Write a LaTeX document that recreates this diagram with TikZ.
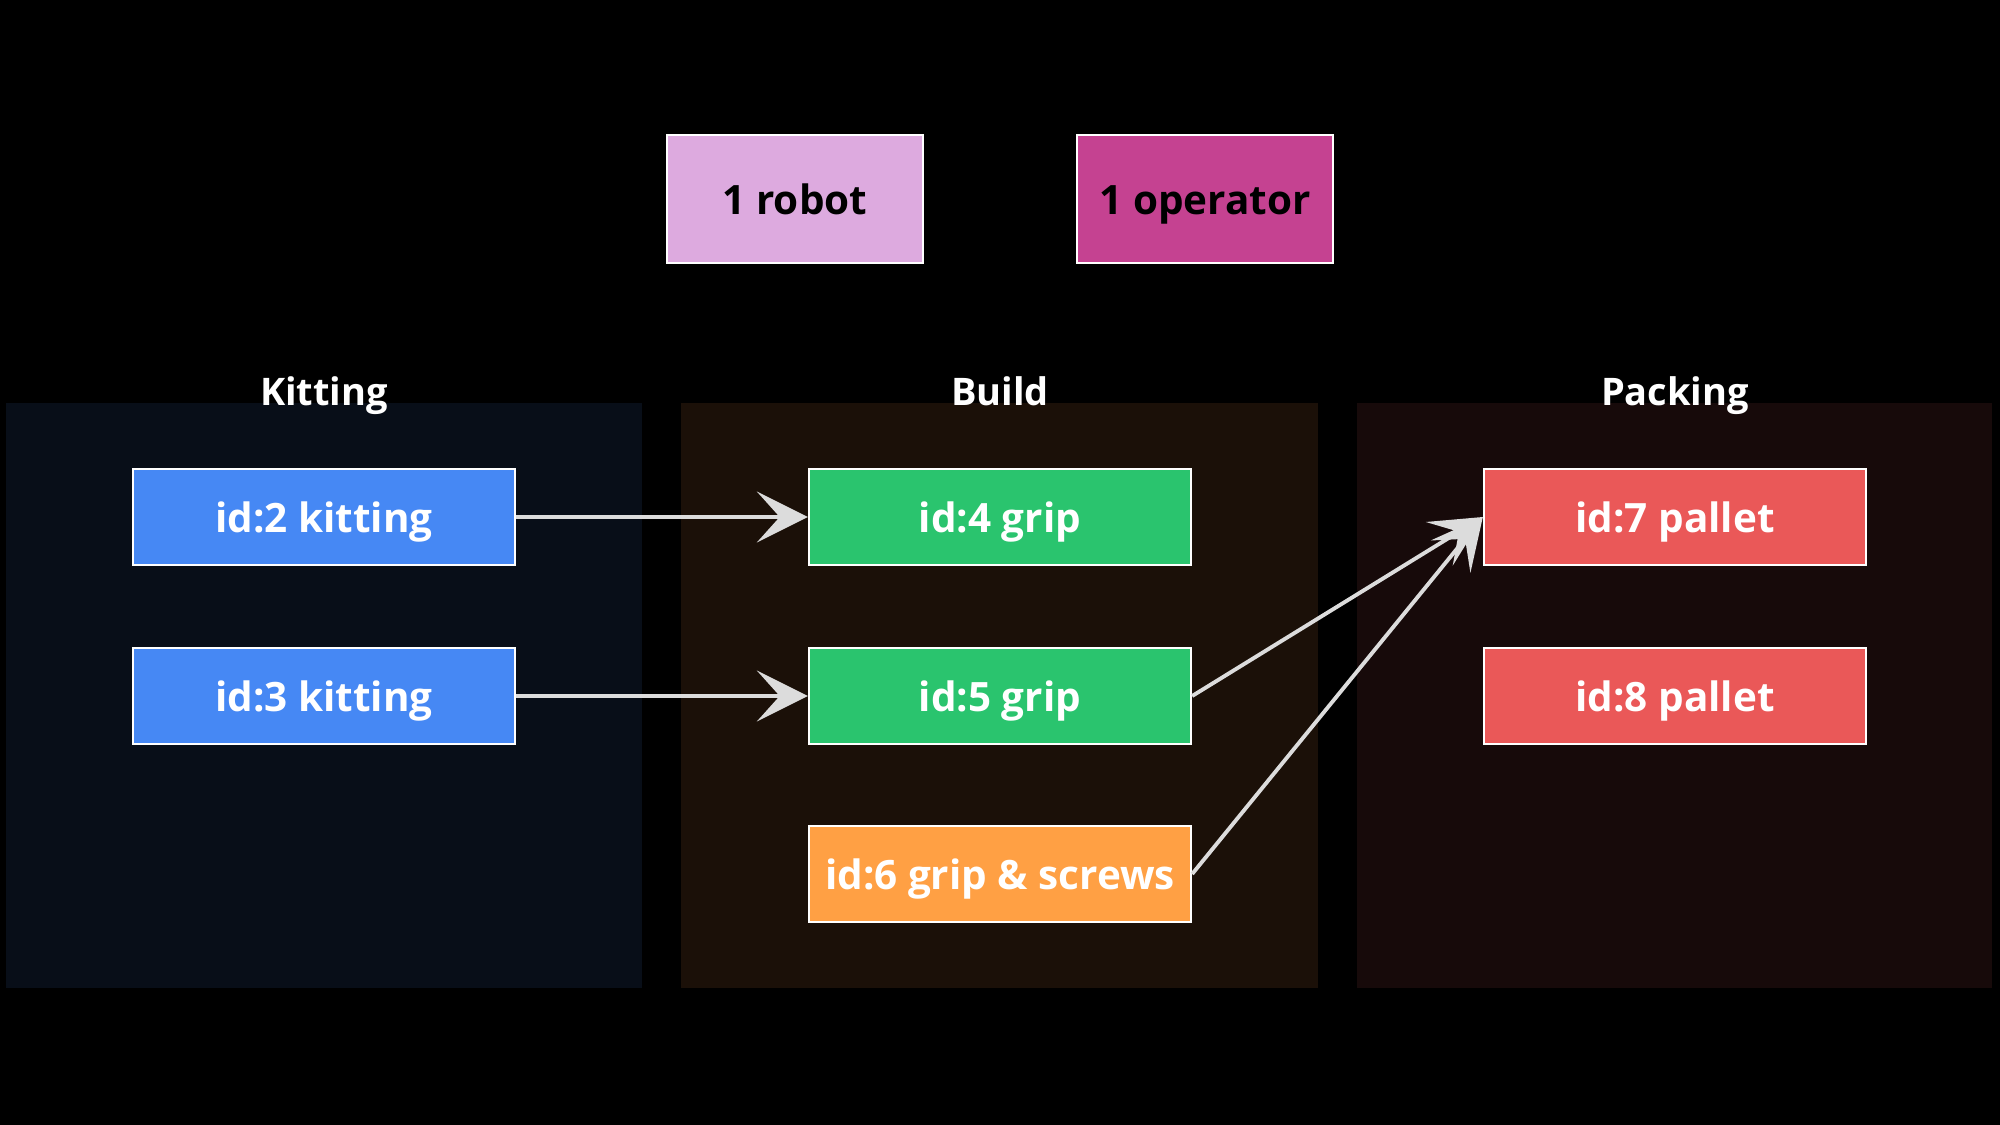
\documentclass[tikz,border=0pt]{standalone}
\usepackage{fontspec}
\setmainfont{Open Sans}
\usetikzlibrary{arrows.meta}
\definecolor{kitbg}{HTML}{080E18}
\definecolor{buildbg}{HTML}{1B1008}
\definecolor{packbg}{HTML}{170A0A}
\definecolor{kitblue}{HTML}{4688F4}
\definecolor{gripgreen}{HTML}{2AC46E}
\definecolor{screworange}{HTML}{FFA044}
\definecolor{palletred}{HTML}{EA5858}
\definecolor{robotpink}{HTML}{DDAADF}
\definecolor{operatorpink}{HTML}{C54291}
\definecolor{linkgrey}{HTML}{DCDCDC}
\tikzset{
  task/.style={draw=white,line width=0.6pt,minimum width=3.82cm,minimum height=0.96cm,text height=0.86em,text depth=0pt,text=white,font=\bfseries\fontsize{11.5}{13}\selectfont},
  res/.style={draw=white,line width=0.6pt,minimum width=2.55cm,minimum height=1.28cm,text height=0.88em,text depth=0pt,text=black,font=\bfseries\fontsize{11.5}{13}\selectfont},
  zone/.style={anchor=base,text=white,font=\bfseries\fontsize{10.8}{13}\selectfont},
  link/.style={draw=linkgrey,line width=1.1pt,-{Stealth[length=14.5pt,width=14.5pt,inset=6.5pt]}}
}
\begin{document}
\begin{tikzpicture}[x=0.01cm,y=-0.01cm]
\fill[black] (0,0) rectangle (2000,1125);
\fill[kitbg] (6,403) rectangle (642,988);
\fill[buildbg] (681,403) rectangle (1318,988);
\fill[packbg] (1357,403) rectangle (1992,988);
\node[zone] (kitting) at (324,406) {Kitting};
\node[zone] (build) at (1000,406) {Build};
\node[zone] (packing) at (1675,406) {Packing};
\node[res,fill=robotpink] (robot) at (795,199) {1 robot};
\node[res,fill=operatorpink] (operator) at (1205,199) {1 operator};
\node[task,fill=kitblue] (k2) at (324,517) {id:2 kitting};
\node[task,fill=kitblue] (k3) at (324,696) {id:3 kitting};
\node[task,fill=gripgreen] (g4) at (1000,517) {id:4 grip};
\node[task,fill=gripgreen] (g5) at (1000,696) {id:5 grip};
\node[task,fill=screworange] (g6) at (1000,874) {id:6 grip \& screws};
\node[task,fill=palletred] (p7) at (1675,517) {id:7 pallet};
\node[task,fill=palletred] (p8) at (1675,696) {id:8 pallet};
\draw[link] (k2) -- (g4);
\draw[link] (k3) -- (g5);
\draw[link] (g5.east) -- (p7.west);
\draw[link] (g6.east) -- (p7.west);
\end{tikzpicture}
\end{document}
